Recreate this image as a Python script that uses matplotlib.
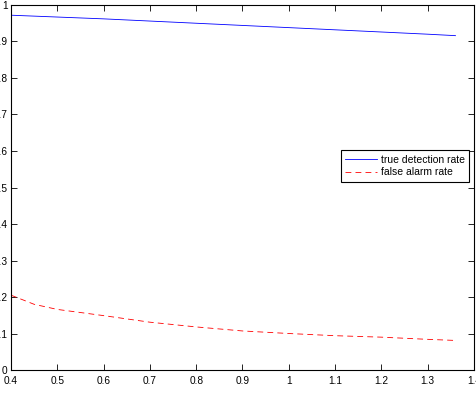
"""Detection / false alarm rates vs threshold"""

import matplotlib
matplotlib.use('Agg')
import matplotlib.pyplot as plt

# Data
x_true = [0.4, 0.5, 0.6, 0.7, 0.8, 0.9, 1.0, 1.1, 1.2, 1.3, 1.36]
true_rate = [0.972, 0.967, 0.962, 0.956, 0.950, 0.944, 0.938, 0.932, 0.926, 0.920, 0.916]

x_false = [0.4, 0.45, 0.5, 0.6, 0.7, 0.8, 0.9, 1.0, 1.1, 1.2, 1.3, 1.36]
false_rate = [0.205, 0.180, 0.166, 0.149, 0.131, 0.118, 0.107, 0.100, 0.094, 0.090, 0.084, 0.081]

xticks = [0.4, 0.5, 0.6, 0.7, 0.8, 0.9, 1, 1.1, 1.2, 1.3, 1.4]
yticks = [0, 0.1, 0.2, 0.3, 0.4, 0.5, 0.6, 0.7, 0.8, 0.9, 1]

plt.rcParams['font.family'] = ['Liberation Sans', 'DejaVu Sans']

fig = plt.figure(figsize=(4.76, 3.93), dpi=100)
ax = fig.add_axes([0.0231, 0.0585, 0.9727, 0.9288])

ax.plot(x_true, true_rate, color='#0000ff', linewidth=0.6, label='true detection rate')
ax.plot(x_false, false_rate, color='#ff0000', linewidth=0.6, linestyle=(0, (7, 5)),
        label='false alarm rate')

ax.set_xlim(0.4, 1.4)
ax.set_ylim(0, 1)
ax.set_xticks(xticks)
ax.set_xticklabels(['0.4', '0.5', '0.6', '0.7', '0.8', '0.9', '1', '1.1', '1.2', '1.3', '1.4'])
ax.set_yticks(yticks)
ax.set_yticklabels(['0', '0.1', '0.2', '0.3', '0.4', '0.5', '0.6', '0.7', '0.8', '0.9', '1'])
ax.tick_params(direction='in', top=True, right=True, length=4, width=0.6,
               labelsize=7.3, pad=2.5)
ax.tick_params(axis='x', pad=4)
for s in ax.spines.values():
    s.set_linewidth(0.8)

leg = ax.legend(loc='upper right', bbox_to_anchor=(0.99, 0.603), borderaxespad=0,
                fancybox=False, edgecolor='black', fontsize=7.5, handlelength=3.0,
                borderpad=0.45, labelspacing=0.25, handletextpad=0.4, framealpha=1)
leg.get_frame().set_linewidth(0.8)

plt.savefig('out.png', dpi=100)
